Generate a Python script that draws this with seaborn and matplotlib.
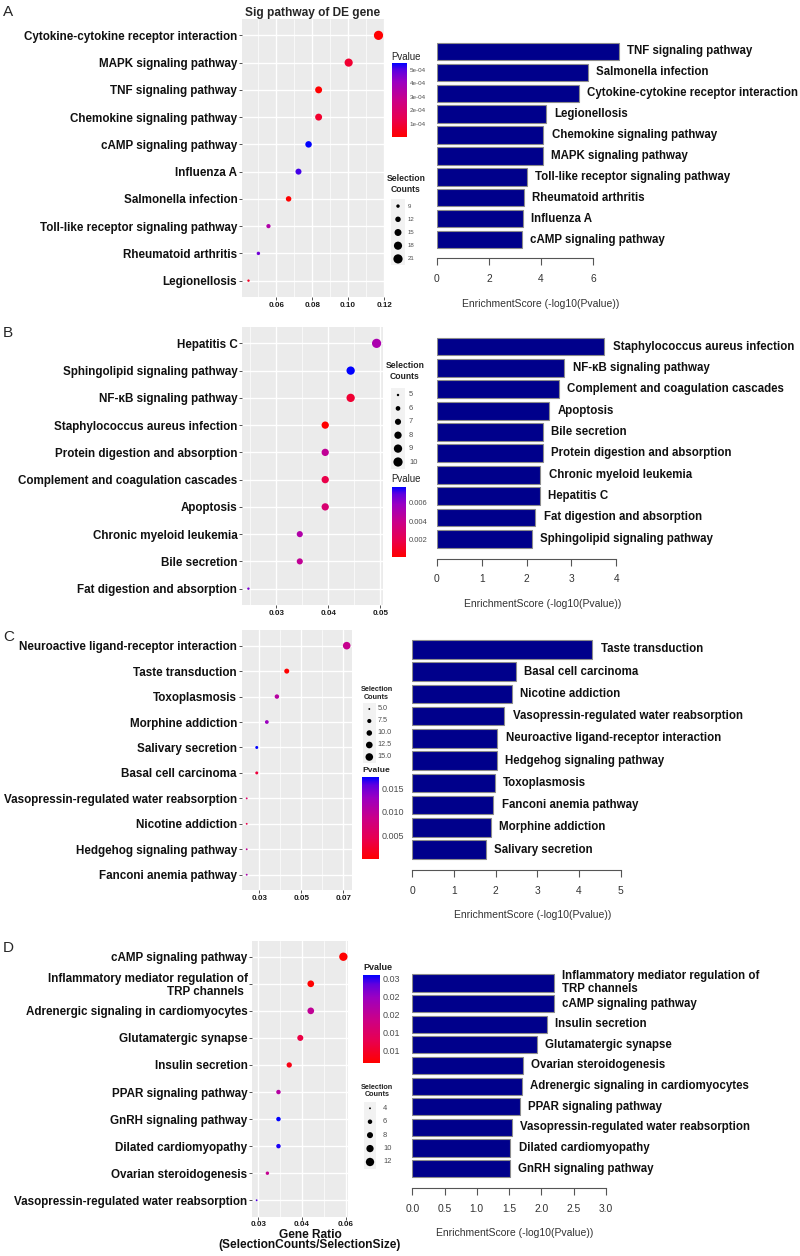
import numpy as np
import pandas as pd
import matplotlib
matplotlib.use("Agg")
import matplotlib.pyplot as plt
import matplotlib.cm as cm
from matplotlib.colors import LinearSegmentedColormap, Normalize
import seaborn as sns

# ── Dados: painel A ───────────────────────────────────────────────────────────
dot_terms_a = ["Cytokine-cytokine receptor interaction", "MAPK signaling pathway",
               "TNF signaling pathway", "Chemokine signaling pathway",
               "cAMP signaling pathway", "Influenza A", "Salmonella infection",
               "Toll-like receptor signaling pathway", "Rheumatoid arthritis",
               "Legionellosis"]
ratio_a = [0.1169, 0.1003, 0.0836, 0.0836, 0.0780, 0.0724, 0.0669, 0.0557, 0.0501, 0.0446]
count_a = [21, 18, 15, 15, 14, 13, 12, 10, 9, 8]
pval_a = [3.5e-6, 8.7e-5, 1.0e-7, 8.1e-5, 5.5e-4, 5.1e-4, 1.6e-6, 3.5e-4, 4.7e-4, 6.6e-5]
bar_terms_a = ["TNF signaling pathway", "Salmonella infection",
               "Cytokine-cytokine receptor interaction", "Legionellosis",
               "Chemokine signaling pathway", "MAPK signaling pathway",
               "Toll-like receptor signaling pathway", "Rheumatoid arthritis",
               "Influenza A", "cAMP signaling pathway"]
score_a = [6.99, 5.80, 5.45, 4.18, 4.09, 4.06, 3.46, 3.33, 3.29, 3.26]

# ── Dados: painel B ───────────────────────────────────────────────────────────
dot_terms_b = ["Hepatitis C", "Sphingolipid signaling pathway", "NF-κB signaling pathway",
               "Staphylococcus aureus infection", "Protein digestion and absorption",
               "Complement and coagulation cascades", "Apoptosis",
               "Chronic myeloid leukemia", "Bile secretion", "Fat digestion and absorption"]
ratio_b = [0.0493, 0.0443, 0.0443, 0.0394, 0.0394, 0.0394, 0.0394, 0.0345, 0.0345, 0.0246]
count_b = [10, 9, 9, 8, 8, 8, 8, 7, 7, 5]
pval_b = [0.0051, 0.0076, 0.0014, 0.00019, 0.0043, 0.0019, 0.0031, 0.0049, 0.0043, 0.0063]
bar_terms_b = ["Staphylococcus aureus infection", "NF-κB signaling pathway",
               "Complement and coagulation cascades", "Apoptosis", "Bile secretion",
               "Protein digestion and absorption", "Chronic myeloid leukemia",
               "Hepatitis C", "Fat digestion and absorption", "Sphingolipid signaling pathway"]
score_b = [3.73, 2.84, 2.72, 2.51, 2.37, 2.37, 2.31, 2.29, 2.20, 2.12]

# ── Dados: painel C ───────────────────────────────────────────────────────────
dot_terms_c = ["Neuroactive ligand-receptor interaction", "Taste transduction",
               "Toxoplasmosis", "Morphine addiction", "Salivary secretion",
               "Basal cell carcinoma", "Vasopressin-regulated water reabsorption",
               "Nicotine addiction", "Hedgehog signaling pathway", "Fanconi anemia pathway"]
ratio_c = [0.0716, 0.0430, 0.0383, 0.0335, 0.0287, 0.0287, 0.0239, 0.0239, 0.0239, 0.0239]
count_c = [15, 9, 8, 7, 6, 6, 5, 5, 5, 5]
pval_c = [0.0091, 0.000048, 0.0105, 0.0129, 0.0174, 0.0033, 0.0062, 0.0041, 0.0096, 0.0115]
bar_terms_c = ["Taste transduction", "Basal cell carcinoma", "Nicotine addiction",
               "Vasopressin-regulated water reabsorption",
               "Neuroactive ligand-receptor interaction", "Hedgehog signaling pathway",
               "Toxoplasmosis", "Fanconi anemia pathway", "Morphine addiction",
               "Salivary secretion"]
score_c = [4.32, 2.48, 2.39, 2.21, 2.04, 2.02, 1.98, 1.94, 1.89, 1.76]

# ── Dados: painel D ───────────────────────────────────────────────────────────
dot_terms_d = ["cAMP signaling pathway", "Inflammatory mediator regulation of\nTRP channels ",
               "Adrenergic signaling in cardiomyocytes", "Glutamatergic synapse",
               "Insulin secretion", "PPAR signaling pathway", "GnRH signaling pathway",
               "Dilated cardiomyopathy", "Ovarian steroidogenesis",
               "Vasopressin-regulated water reabsorption"]
ratio_d = [0.0592, 0.0480, 0.0480, 0.0444, 0.0406, 0.0369, 0.0369, 0.0369, 0.0331, 0.0294]
count_d = [12, 9, 9, 8, 7, 6, 6, 6, 5, 4]
pval_d = [0.0065, 0.0065, 0.0200, 0.0117, 0.0081, 0.0214, 0.0309, 0.0302, 0.0195, 0.0288]
bar_terms_d = ["Inflammatory mediator regulation of\nTRP channels", "cAMP signaling pathway",
               "Insulin secretion", "Glutamatergic synapse", "Ovarian steroidogenesis",
               "Adrenergic signaling in cardiomyocytes", "PPAR signaling pathway",
               "Vasopressin-regulated water reabsorption", "Dilated cardiomyopathy",
               "GnRH signaling pathway"]
score_d = [2.19, 2.19, 2.09, 1.93, 1.71, 1.70, 1.67, 1.54, 1.52, 1.51]

# ── Ticks e legendas ──────────────────────────────────────────────────────────
dot_ticks_a, dot_labels_a, dot_minor_a = [0.06, 0.08, 0.10, 0.12], ["0.06", "0.08", "0.10", "0.12"], [0.05, 0.07, 0.09, 0.11]
dot_ticks_b, dot_labels_b, dot_minor_b = [0.03, 0.04, 0.05], ["0.03", "0.04", "0.05"], [0.025, 0.035, 0.045]
dot_ticks_c, dot_labels_c, dot_minor_c = [0.03, 0.05, 0.07], ["0.03", "0.05", "0.07"], [0.04, 0.06]
dot_ticks_d, dot_labels_d, dot_minor_d = [0.03, 0.045, 0.06], ["0.03", "0.04", "0.06"], [0.0375, 0.0525]

cbar_ticks_a, cbar_labels_a = [1e-4, 2e-4, 3e-4, 4e-4, 5e-4], ["1e-04", "2e-04", "3e-04", "4e-04", "5e-04"]
cbar_ticks_b, cbar_labels_b = [0.002, 0.004, 0.006], ["0.002", "0.004", "0.006"]
cbar_ticks_c, cbar_labels_c = [0.005, 0.010, 0.015], ["0.005", "0.010", "0.015"]
cbar_ticks_d, cbar_labels_d = [0.01, 0.015, 0.02, 0.025, 0.03], ["0.01", "0.01", "0.02", "0.02", "0.03"]

size_keys_a = [9, 12, 15, 18, 21]
size_keys_b = [5, 6, 7, 8, 9, 10]
size_keys_c = [5.0, 7.5, 10.0, 12.5, 15.0]
size_keys_d = [4, 6, 8, 10, 12]

bar_ticks_a = [0, 2, 4, 6]
bar_ticks_b = [0, 1, 2, 3, 4]
bar_ticks_c = [0, 1, 2, 3, 4, 5]
bar_ticks_d = [0.0, 0.5, 1.0, 1.5, 2.0, 2.5, 3.0]

# ── Configuração geral ────────────────────────────────────────────────────────
sns.set_theme(style="white")
plt.rcParams["font.family"] = ["Liberation Sans", "DejaVu Sans"]

# gradiente vermelho -> azul (interpolado em Lab, como no ggplot)
pval_cmap = LinearSegmentedColormap.from_list(
    "red_blue",
    [(0.0, "#FF0000"), (0.25, "#E80050"), (0.5, "#CA0089"),
     (0.75, "#9A00C2"), (0.9, "#5F00DF"), (1.0, "#0000FF")],
)

W, H = 800, 1256
fig = plt.figure(figsize=(W / 100, H / 100), dpi=100)


def place(x0, y0, x1, y1):
    return fig.add_axes([x0 / W, 1 - y1 / H, (x1 - x0) / W, (y1 - y0) / H])


def ftext(x, y, s, **kw):
    return fig.text(x / W, 1 - y / H, s, **kw)


def dot_panel(box, terms, ratio, count, pval, sizes, ticks, labels, minor):
    ax = place(*box)
    df = pd.DataFrame({"term": terms, "ratio": ratio, "count": count, "pval": pval})
    sns.scatterplot(data=df, x="ratio", y="term", hue="pval", palette=pval_cmap,
                    hue_norm=(min(pval), max(pval)), size="count", sizes=sizes,
                    size_norm=(min(count), max(count)), legend=False,
                    linewidth=0, ax=ax, zorder=3)
    ax.set_facecolor("#EBEBEB")
    span = max(ratio) - min(ratio)
    ax.set_xlim(min(ratio) - 0.05 * span, max(ratio) + 0.05 * span)
    ax.set_ylim(len(terms) - 0.4, -0.6)
    ax.set_xticks(ticks, labels=labels, fontsize=5.8, fontweight="bold", color="#1a1a1a")
    ax.set_xticks(minor, minor=True)
    ax.set_yticks(range(len(terms)), labels=terms, fontsize=8.4, fontweight="bold",
                  color="#111111", linespacing=1.1)
    ax.grid(True, which="major", color="white", linewidth=1.0)
    ax.grid(True, which="minor", axis="x", color="white", linewidth=0.5)
    ax.set_axisbelow(True)
    for sp in ax.spines.values():
        sp.set_visible(False)
    ax.tick_params(axis="both", which="major", length=2.2, width=0.6, color="#333333",
                   pad=1.2, bottom=True, left=True)
    ax.tick_params(axis="x", which="minor", length=0)
    ax.set_xlabel("")
    ax.set_ylabel("")
    return ax


def pval_bar(box, pval, ticks, labels, fs, title_xy, title_fs, title_bold):
    cax = place(*box)
    sm = cm.ScalarMappable(norm=Normalize(min(pval), max(pval)), cmap=pval_cmap)
    cb = fig.colorbar(sm, cax=cax)
    cb.outline.set_visible(False)
    cb.set_ticks(ticks, labels=labels)
    cb.minorticks_off()
    cax.tick_params(axis="y", direction="in", length=2.5, width=0.5, color="white",
                    left=True, right=True, labelleft=False, labelright=True,
                    labelsize=fs, labelcolor="#4d4d4d", pad=2)
    ftext(*title_xy, "Pvalue", ha="left", va="center", fontsize=title_fs,
          fontweight="bold" if title_bold else "normal", color="#222222")


def size_key(box, keys, labels, count, sizes, label_x, fs, title_xy, title_fs):
    kax = place(*box)
    kax.set_facecolor("#F2F2F2")
    cmin, cmax = min(count), max(count)
    s = [sizes[0] + (sizes[1] - sizes[0]) * (k - cmin) / (cmax - cmin) for k in keys]
    kax.scatter(np.zeros(len(keys)), np.arange(len(keys)), s=s, color="black", linewidth=0)
    kax.set_xlim(-0.5, 0.5)
    kax.set_ylim(len(keys) - 0.5, -0.5)
    kax.set_xticks([])
    kax.set_yticks([])
    for sp in kax.spines.values():
        sp.set_visible(False)
    pitch = (box[3] - box[1]) / len(keys)
    for i, lab in enumerate(labels):
        ftext(label_x, box[1] + (i + 0.5) * pitch, lab, ha="left", va="center",
              fontsize=fs, color="#4d4d4d")
    ftext(*title_xy, "Selection\nCounts", ha="center", va="center", fontsize=title_fs,
          fontweight="bold", color="#222222", linespacing=1.15)


def bar_panel(box, terms, score, xmax, ticks, ticklabels, drop, xlabel_xy):
    ax = place(*box)
    df = pd.DataFrame({"term": terms, "score": score})
    sns.barplot(data=df, x="score", y="term", orient="h", color="#00008B", saturation=1,
                width=0.833, edgecolor="#8c8c8c", linewidth=0.8, ax=ax)
    ax.set_xlim(0, xmax)
    ax.set_ylim(len(terms) - 0.5, -0.5)
    for i, (t, v) in enumerate(zip(terms, score)):
        ax.annotate(t, xy=(v, i), xytext=(6, 0), textcoords="offset points",
                    ha="left", va="center", fontsize=8.3, fontweight="bold",
                    color="#111111", linespacing=1.12, annotation_clip=False)
    ax.set_yticks([])
    ax.set_xlabel("")
    ax.set_ylabel("")
    for name in ["top", "right", "left"]:
        ax.spines[name].set_visible(False)
    ax.spines["bottom"].set_position(("outward", drop))
    ax.spines["bottom"].set_bounds(ticks[0], ticks[-1])
    ax.spines["bottom"].set_color("#555555")
    ax.spines["bottom"].set_linewidth(0.8)
    ax.set_xticks(ticks, labels=ticklabels)
    ax.tick_params(axis="x", length=4.8, width=0.8, color="#555555", labelsize=7.4,
                   labelcolor="#333333", pad=6.5, bottom=True)
    ftext(*xlabel_xy, "EnrichmentScore (-log10(Pvalue))", ha="center", va="center",
          fontsize=7.5, color="#333333")
    return ax


# ── Painel A ──────────────────────────────────────────────────────────────────
ftext(3, 12, "A", ha="left", va="center", fontsize=11)
dot_panel((242, 19, 385, 297), dot_terms_a, ratio_a, count_a, pval_a, (3, 44),
          dot_ticks_a, dot_labels_a, dot_minor_a)
ftext(313, 13, "Sig pathway of DE gene", ha="center", va="center", fontsize=8.6,
      fontweight="bold")
pval_bar((392, 63, 407, 137), pval_a, cbar_ticks_a, cbar_labels_a, 4.5, (391, 57), 6.9, False)
size_key((391, 199.5, 405, 265.5), size_keys_a, [str(k) for k in size_keys_a], count_a,
         (3, 44), 408, 4.4, (406, 184), 6.2)
bar_panel((437, 41, 437 + 26 * 8, 250), bar_terms_a, score_a, 8, bar_ticks_a,
          [str(t) for t in bar_ticks_a], 6, (540.5, 304))

# ── Painel B ──────────────────────────────────────────────────────────────────
ftext(3, 333, "B", ha="left", va="center", fontsize=11)
dot_panel((242, 327, 383, 605), dot_terms_b, ratio_b, count_b, pval_b, (3, 44),
          dot_ticks_b, dot_labels_b, dot_minor_b)
size_key((391, 388.3, 405, 468.7), size_keys_b, [str(k) for k in size_keys_b], count_b,
         (3, 44), 409, 5.4, (405, 371), 6.2)
pval_bar((392, 487, 406, 557), pval_b, cbar_ticks_b, cbar_labels_b, 5.5, (391, 479), 6.9, False)
bar_panel((436.7, 335.9, 436.7 + 44.9 * 5.5, 549.5), bar_terms_b, score_b, 5.5, bar_ticks_b,
          [str(t) for t in bar_ticks_b], 6.5, (542.5, 604))

# ── Painel C ──────────────────────────────────────────────────────────────────
ftext(3, 637, "C", ha="left", va="center", fontsize=11)
dot_panel((241.7, 630.4, 351.7, 890), dot_terms_c, ratio_c, count_c, pval_c, (1.8, 30),
          dot_ticks_c, dot_labels_c, dot_minor_c)
size_key((362.8, 703, 375.8, 763), size_keys_c, [f"{k:.1f}" for k in size_keys_c], count_c,
         (1.8, 30), 377.7, 5.2, (376.7, 693.5), 5.2)
pval_bar((362.3, 777, 379, 859), pval_c, cbar_ticks_c, cbar_labels_c, 6.5, (362.5, 770), 6.1, True)
bar_panel((412.3, 638.1, 412.3 + 41.7 * 7, 860.9), bar_terms_c, score_c, 7, bar_ticks_c,
          [str(t) for t in bar_ticks_c], 6.5, (533, 915))

# ── Painel D ──────────────────────────────────────────────────────────────────
ftext(3, 948, "D", ha="left", va="center", fontsize=11)
dot_panel((252.3, 940.5, 347.7, 1216.5), dot_terms_d, ratio_d, count_d, pval_d, (1.8, 36),
          dot_ticks_d, dot_labels_d, dot_minor_d)
ftext(310, 1240, "Gene Ratio\n(SelectionCounts/SelectionSize)", ha="center", va="center",
      fontsize=8.6, fontweight="bold", linespacing=0.78, color="#111111")
pval_bar((363, 975, 380, 1062.7), pval_d, cbar_ticks_d, cbar_labels_d, 6.5, (363, 967.7), 6.5, True)
size_key((363.5, 1101.6, 376.5, 1168.7), size_keys_d, [str(k) for k in size_keys_d], count_d,
         (1.8, 36), 383, 5.4, (377, 1091), 5.2)
bar_panel((412.3, 972.6, 412.3 + 64.5 * 4.5, 1179), bar_terms_d, score_d, 4.5, bar_ticks_d,
          [f"{t:.1f}" for t in bar_ticks_d], 6.5, (515, 1232.7))

fig.savefig("out.png", dpi=100)
plt.close(fig)
print("✓ out.png salvo")
